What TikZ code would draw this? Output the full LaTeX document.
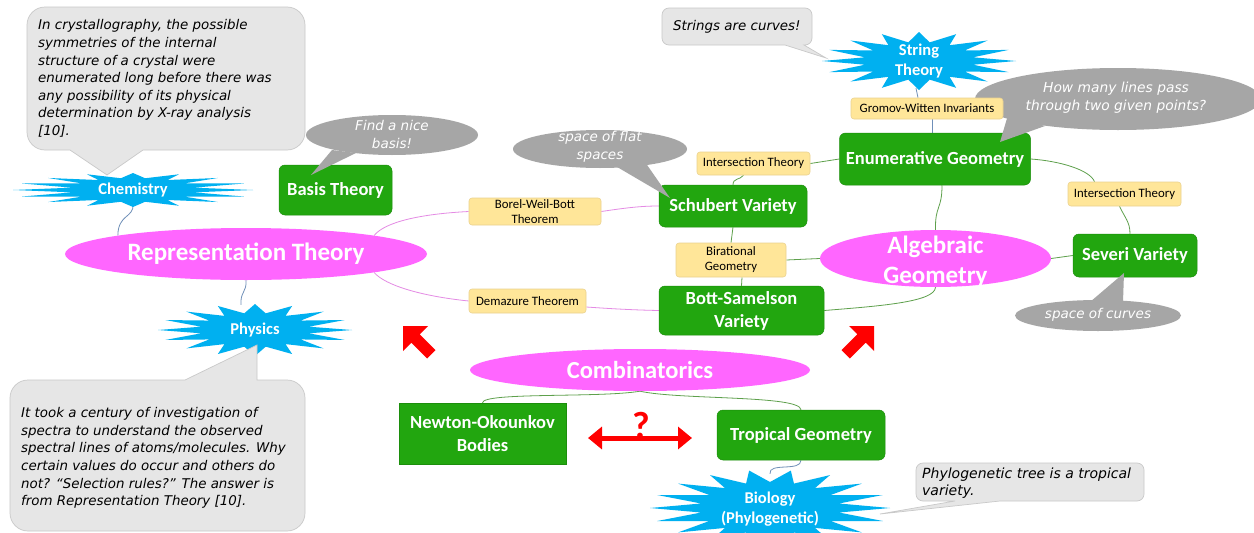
\documentclass[tikz,border=0pt]{standalone}
\usepackage{fontspec}
\setmainfont{Carlito}
\newfontfamily\hand{DejaVu Sans}
\usetikzlibrary{arrows.meta,shapes.geometric}
\definecolor{gboxgreen}{HTML}{22A60F}
\definecolor{gboxedge}{HTML}{1C8E0C}
\definecolor{magfill}{HTML}{FF66FF}
\definecolor{starblue}{HTML}{00B0F0}
\definecolor{yfill}{HTML}{FFE699}
\definecolor{yedge}{HTML}{EBD28F}
\definecolor{bubgray}{HTML}{A6A6A6}
\definecolor{callgray}{HTML}{E6E6E6}
\definecolor{calledge}{HTML}{C9C9C9}
\definecolor{magline}{HTML}{E48BE4}
\definecolor{grline}{HTML}{5EA04C}
\definecolor{blline}{HTML}{6F8FB8}
\pgfdeclarelayer{bg}
\pgfsetlayers{bg,main}
\newcommand{\burstshape}[8]{%
  \fill[starblue] ({#1+#3},{#2}) \foreach \k in {1,...,#8}{ -- ({#1+(#3-(#3-#5)*mod(\k,2))*cos(\k*180/#7)},{#2+(#4-(#4-#6)*mod(\k,2))*sin(\k*180/#7)}) } -- cycle;}
\begin{document}
\begin{tikzpicture}[x=1pt,y=-1pt,
  gbox/.style={fill=gboxgreen, draw=gboxedge, line width=0.5pt, rounded corners=6pt, text=white, font=\bfseries\fontsize{18.5}{23}\selectfont, align=center, inner sep=0pt},
  ybox/.style={fill=yfill, draw=yedge, line width=0.6pt, rounded corners=3pt, text=black, font=\fontsize{12.8}{15}\selectfont, align=center, inner sep=0pt},
  mag/.style={ellipse, fill=magfill, text=white, font=\bfseries\fontsize{25}{30}\selectfont, align=center, inner sep=0pt},
  startext/.style={text=white, font=\bfseries\fontsize{16.5}{20}\selectfont, align=center, inner sep=0pt},
  handtext/.style={text=black, font=\hand\itshape\fontsize{13.4}{17.6}\selectfont, align=left, inner sep=0pt},
  bubtext/.style={text=white, font=\hand\itshape\fontsize{13.5}{18}\selectfont, align=center, inner sep=0pt},
  callout/.style={fill=callgray, draw=calledge, line width=0.7pt},
  magcon/.style={draw=magline, line width=0.8pt},
  grcon/.style={draw=grline, line width=0.8pt},
  blcon/.style={draw=blline, line width=0.8pt}]
\begin{pgfonlayer}{bg}
\fill[white] (0,0) rectangle (1254,533);
\end{pgfonlayer}
\useasboundingbox (0,0) rectangle (1254,533);
\clip (0,0) rectangle (1254,533);

% bubble behind the Gromov-Witten box
\fill[bubgray] (1118,99) ellipse [x radius=143, y radius=31];

% boxes and ellipses
\node[gbox, minimum width=113pt, minimum height=50pt] (basis) at (335.5,190) {Basis Theory};
\node[mag, minimum width=362pt, minimum height=52pt] (rep) at (246,254) {Representation Theory};
\node[ybox, minimum width=132pt, minimum height=27pt] (borel) at (535,211.5) {Borel-Weil-Bott\\Theorem};
\node[ybox, minimum width=117pt, minimum height=24pt] (demaz) at (527.5,301) {Demazure Theorem};
\node[gbox, minimum width=148pt, minimum height=42pt] (schub) at (733,206) {Schubert Variety};
\node[ybox, minimum width=113pt, minimum height=23pt] (inter1) at (753.5,163.5) {Intersection Theory};
\node[ybox, minimum width=110pt, minimum height=34pt] (birat) at (731,260) {Birational\\Geometry};
\node[gbox, minimum width=165pt, minimum height=49pt] (bott) at (741.5,310.5) {Bott-Samelson\\Variety};
\node[gbox, minimum width=191pt, minimum height=52pt] (enum) at (935,159) {Enumerative Geometry};
\node[ybox, minimum width=152pt, minimum height=21pt] (gromov) at (927,108.5) {Gromov-Witten Invariants};
\node[mag, inner ysep=-12pt, minimum width=231pt, minimum height=57pt] (alg) at (935.5,258.5) {};
\node[text=white, font=\bfseries\fontsize{25}{30}\selectfont, align=center, inner sep=0pt] (algtext) at (935.5,261.5) {Algebraic\\Geometry};
\node[ybox, minimum width=113pt, minimum height=24pt] (inter2) at (1124.5,194) {Intersection Theory};
\node[gbox, minimum width=124pt, minimum height=43pt] (severi) at (1135,255.5) {Severi Variety};
\node[mag, minimum width=340pt, minimum height=42pt, font=\bfseries\fontsize{24.5}{28}\selectfont] (comb) at (640,370) {Combinatorics};
\node[gbox, rounded corners=0pt, minimum width=167pt, minimum height=61pt] (newton) at (482.5,433.5) {Newton-Okounkov\\Bodies};
\node[gbox, minimum width=168pt, minimum height=50pt] (trop) at (801,435) {Tropical Geometry};

% stars
\burstshape{133}{190}{120}{17}{62}{12}{16}{31}
\node[startext, minimum height=28pt] (chem) at (133,190) {Chemistry};
\burstshape{255}{330}{97}{26}{55}{17}{16}{31}
\node[startext, minimum height=50pt] (phys) at (255,330) {Physics};
\burstshape{919}{61}{97}{29}{55}{19}{16}{31}
\node[startext, minimum height=54pt] (strth) at (919,61) {String\\Theory};
\burstshape{770}{508}{120}{38}{70}{26}{18}{35}
\node[startext, minimum height=70pt] (bio) at (770,509) {Biology\\(Phylogenetic)};

% connectors
\begin{pgfonlayer}{bg}
\draw[blcon] (chem.south) .. controls (134,218) and (118,214) .. (rep.north west);
\draw[blcon] (rep.south) .. controls (247,292) and (240,292) .. ([xshift=-14pt]phys.north);
\draw[magcon] (rep.north east) .. controls (385,222) and (420,214) .. (borel.west);
\draw[magcon] (borel.east) .. controls (625,208) and (640,206) .. (schub.west);
\draw[magcon] (rep.south east) .. controls (385,285) and (420,296) .. (demaz.west);
\draw[magcon] ([yshift=-6pt]demaz.east) .. controls (615,309) and (635,310) .. (bott.west);
\draw[grcon] (schub.north) .. controls (733,178) and (740,180) .. ([xshift=-10pt]inter1.south);
\draw[grcon] (inter1.east) -- (enum.west);
\draw[grcon] (schub.south) -- (birat.north);
\draw[grcon] ([xshift=11pt]birat.south) -- (bott.north);
\draw[grcon] (birat.east) -- (alg.west);
\draw[grcon] (bott.east) .. controls (880,306) and (935,302) .. (alg.south);
\draw[grcon] ([xshift=7pt]enum.south) .. controls (942,210) and (935,205) .. (alg.north);
\draw[grcon] (enum.east) .. controls (1060,161) and (1090,170) .. ([xshift=-30pt]inter2.north);
\draw[grcon] ([xshift=-5pt]inter2.south) .. controls (1125,218) and (1130,222) .. ([xshift=-5pt]severi.north);
\draw[grcon] (alg.east) -- (severi.west);
\draw[blcon] ([xshift=-3pt]strth.south) -- ([xshift=-9pt]gromov.north);
\draw[blcon] ([xshift=5pt]gromov.south) -- ([xshift=-3pt]enum.north);
\draw[grcon] (comb.south) .. controls (600,398) and (483,392) .. (newton.north);
\draw[grcon] (comb.south) .. controls (680,400) and (800,395) .. (trop.north);
\draw[blcon] (trop.south) .. controls (801,472) and (768,462) .. (bio.north);
\end{pgfonlayer}

% red arrows
\fill[red] (403,326) -- (428,326) -- (419.7,334.3) -- (435.5,350.1) -- (427.1,358.5) -- (411.3,342.7) -- (403,351) -- cycle;
\fill[red] (874,326) -- (874,351) -- (865.7,342.7) -- (849.9,358.5) -- (841.5,350.1) -- (857.3,334.3) -- (849,326) -- cycle;
\coordinate (qa) at (588,438);
\coordinate (qb) at (692,438);
\draw[red, line width=5pt, {Triangle[width=22pt,length=14pt]}-{Triangle[width=22pt,length=14pt]}] (qa) -- (qb);
\node[text=red, font=\bfseries\fontsize{38}{40}\selectfont, inner sep=0pt] (qmark) at (641,426) {?};

% light callouts
\filldraw[callout] (107,175) -- (143,150) [rounded corners=18pt] -- (305,150) -- (305,7) -- (27,7) -- (27,150) [sharp corners] -- (70,150) -- cycle;
\node[handtext, anchor=north west] (crystaltext) at (38,19.5) {In crystallography, the possible\\symmetries of the internal\\structure of a crystal were\\enumerated long before there was\\any possibility of its physical\\determination by X-ray analysis\\{[10]}.};
\filldraw[callout] (257,345) -- (257,380) [rounded corners=18pt] -- (305,380) -- (305,531) -- (10,531) -- (10,380) [sharp corners] -- (185,380) -- cycle;
\node[handtext, anchor=north west] (spectratext) at (21,407.4) {It took a century of investigation of\\spectra to understand the observed\\spectral lines of atoms/molecules. Why\\certain values do occur and others do\\not? “Selection rules?” The answer is\\from Representation Theory [10].};
\filldraw[callout] (826,58) -- (804,45) [rounded corners=7pt] -- (812,45) -- (812,8) -- (662,8) -- (662,45) [sharp corners] -- (785,45) -- cycle;
\node[handtext, anchor=north west] (stringnote) at (673,20) {Strings are curves!};
\filldraw[callout] (880,514) -- (1000,501) [rounded corners=7pt] -- (1144,501) -- (1144,463) -- (916,463) -- (916,501) [sharp corners] -- (955,501) -- cycle;
\node[handtext, anchor=north west, font=\hand\itshape\fontsize{14}{17.6}\selectfont] (phylonote) at (922,467.4) {Phylogenetic tree is a tropical\\variety.};

% gray bubbles
\fill[bubgray] (392,135) ellipse [x radius=86, y radius=20];
\fill[bubgray] (332,150) -- (311,175) -- (356,153) -- cycle;
\node[bubtext] (basisnote) at (392,134.5) {Find a nice\\basis!};
\fill[bubgray] (600,149) ellipse [x radius=87, y radius=19];
\fill[bubgray] (612,164) -- (670,198) -- (645,162) -- cycle;
\node[bubtext] (flatnote) at (600,147) {space of flat\\spaces};
\fill[bubgray] (1008,115) -- (1000,142) -- (1045,126) -- cycle;
\node[bubtext, font=\hand\itshape\fontsize{13.8}{18}\selectfont] (linesnote) at (1116,98) {How many lines pass\\through two given points?};
\fill[bubgray] (1098,315.5) ellipse [x radius=83, y radius=15.5];
\fill[bubgray] (1090,302) -- (1124,273) -- (1123,302) -- cycle;
\node[bubtext] (curvesnote) at (1098,315) {space of curves};
\end{tikzpicture}
\end{document}
